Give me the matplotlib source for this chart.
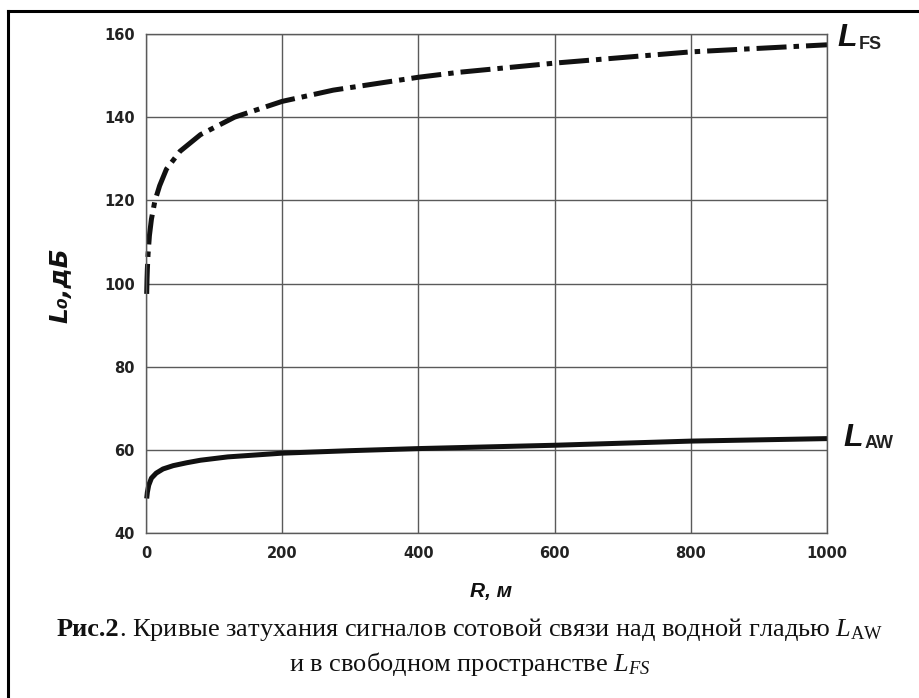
import matplotlib
matplotlib.use("Agg")
import matplotlib.pyplot as plt
from matplotlib.lines import Line2D
from matplotlib.offsetbox import TextArea, HPacker, AnnotationBbox

plt.rcParams.update({
    "font.family": ["DejaVu Sans"],
    "mathtext.fontset": "custom",
    "mathtext.rm": "Liberation Serif",
    "mathtext.it": "Liberation Serif:italic",
    "mathtext.bf": "Liberation Serif:bold",
})

W, H = 919, 698
GRID_C, INK = "#5a5a5a", "#111111"

# free-space loss L_FS
R_FS = [1, 1.5, 2, 3, 5, 8, 13, 20, 30, 50, 80, 130, 200, 275, 400, 460, 600, 800, 1000]
L_FS = [97.5, 101, 103.5, 107, 111.5, 115.5, 119.8, 123.5, 127.5, 131.8, 135.8, 140,
        143.8, 146.5, 149.6, 150.8, 153, 155.7, 157.4]
# loss above the water surface L_AW
R_AW = [1, 2, 4, 8, 15, 25, 40, 60, 80, 120, 200, 300, 400, 600, 800, 1000]
L_AW = [48.3, 49.8, 51.5, 53.2, 54.4, 55.4, 56.2, 56.9, 57.5, 58.3, 59.2, 59.8,
        60.3, 61.1, 62.1, 62.7]

X_TICKS = [0, 200, 400, 600, 800, 1000]
Y_TICKS = [40, 60, 80, 100, 120, 140, 160]


def px(x, y):
    return x / W, 1 - y / H


fig = plt.figure(figsize=(W / 100, H / 100), dpi=100)
fig.patch.set_facecolor("white")

# page frame (only left and top edges are in view)
fig.add_artist(Line2D([8 / W, 8 / W], [0, 1 - 11 / H], color="black", lw=2.2))
fig.add_artist(Line2D([8 / W, 1], [1 - 11 / H, 1 - 11 / H], color="black", lw=2.2))

ax = fig.add_axes([146 / W, 1 - 533 / H, (827 - 146) / W, (533 - 34) / H])
ax.set_xlim(0, 1000); ax.set_ylim(40, 160)
ax.set_xticks(X_TICKS); ax.set_yticks(Y_TICKS)
ax.grid(True, color=GRID_C, lw=1.0)
for s in ax.spines.values():
    s.set_color(GRID_C); s.set_linewidth(1.0)
ax.tick_params(length=0, labelsize=10.5, colors="#222222")
ax.tick_params(axis="x", pad=9)
ax.tick_params(axis="y", pad=8)
for t in ax.get_xticklabels() + ax.get_yticklabels():
    t.set_fontweight("bold")

ax.plot(R_FS, L_FS, color=INK, lw=3.6, dashes=(6, 1.4, 1.1, 1.4),
        dash_capstyle="butt", clip_on=False)
ax.plot(R_AW, L_AW, color=INK, lw=3.6, solid_capstyle="butt", clip_on=False)

# curve labels
fig.text(*px(837, 46), "L", fontsize=23, fontweight="bold", fontstyle="italic",
         family="Liberation Sans", va="baseline", color=INK)
fig.text(*px(859, 49), "FS", fontsize=13, fontweight="bold",
         family="Liberation Sans", va="baseline", color="#222222")
fig.text(*px(843, 446), "L", fontsize=23, fontweight="bold", fontstyle="italic",
         family="Liberation Sans", va="baseline", color=INK)
fig.text(*px(865, 448), "AW", fontsize=13, fontweight="bold",
         family="Liberation Sans", va="baseline", color="#222222")

# axis titles
fig.text(*px(60, 285), "L\u2080,дБ", rotation=90, fontsize=18, fontweight="bold",
         fontstyle="italic", family="DejaVu Sans", ha="center", va="center", color=INK)
fig.text(*px(491, 592), "R, м", fontsize=15, fontweight="bold", fontstyle="italic",
         family="Liberation Sans", ha="center", va="center", color=INK)

# caption
cap = dict(fontsize=19, family="Liberation Serif", math_fontfamily="custom", color=INK)
line1 = HPacker(children=[
    TextArea("Рис.2", textprops=dict(cap, fontweight="bold")),
    TextArea(r". Кривые затухания сигналов сотовой связи над водной гладью $L_{\mathrm{AW}}$",
             textprops=cap)], align="baseline", pad=0, sep=0)
fig.add_artist(AnnotationBbox(line1, px(470, 643), xycoords="figure fraction",
                              box_alignment=(0.5, 0), frameon=False, pad=0))
fig.text(*px(470, 671), r"и в свободном пространстве $L_{FS}$", **cap,
         ha="center", va="baseline")

fig.savefig("out.png", dpi=100)
